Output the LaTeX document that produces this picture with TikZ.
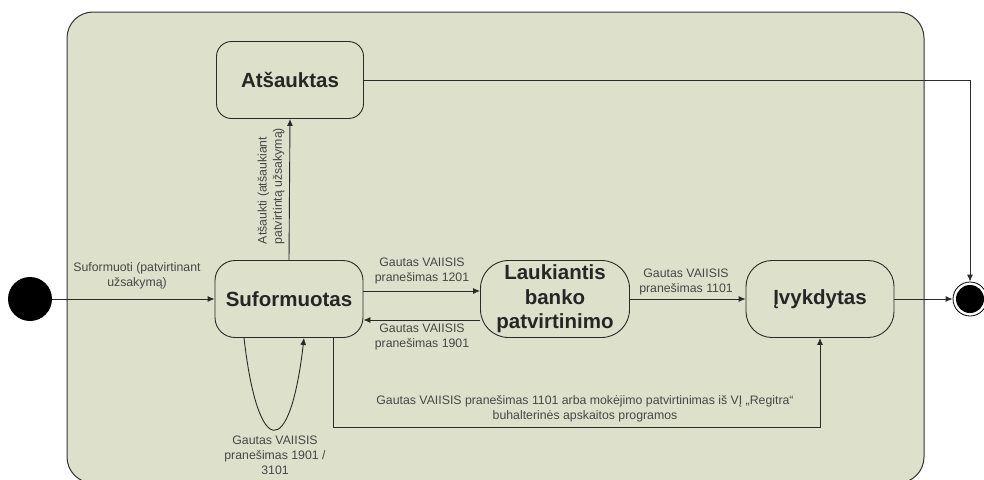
\documentclass[tikz,border=0pt]{standalone}
\usepackage{fontspec}
\setmainfont{Liberation Sans}
\usetikzlibrary{arrows.meta,calc}
\definecolor{bgfill}{HTML}{DDE0CA}
\definecolor{linec}{HTML}{2A2A2A}
\begin{document}
\begin{tikzpicture}[x=1pt,y=-1pt,
  state/.style={draw=linec, line width=0.9pt, fill=bgfill, rectangle, inner sep=0pt,
     minimum width=148pt, minimum height=77pt, align=center,
     font=\fontsize{20.5}{24.5}\selectfont\bfseries, text=black!85},
  lbl/.style={align=center, font=\fontsize{12.3}{15.2}\selectfont, text=black!72, inner sep=0pt},
  arr/.style={draw=linec, line width=0.9pt, -{Latex[length=7pt,width=6pt]}},
  conn/.style={draw=linec, line width=0.9pt}]
\useasboundingbox (0,0) rectangle (984,479);
\begin{scope}
\clip (0,0) rectangle (984,479);
\draw[fill=bgfill, draw=black!80, line width=1pt, rounded corners=26pt] (67,12) rectangle (924,483);
\end{scope}
% nodes
\node[state, rounded corners=15pt, minimum width=147pt] (ats) at (290,80) {Atšauktas};
\node[state, rounded corners=20pt] (suf) at (289,299) {Suformuotas};
\node[state, rounded corners=28pt, minimum width=149pt] (lau) at (555,299) {Laukiantis\\banko\\patvirtinimo};
\node[state, rounded corners=26pt] (ivy) at (820,299) {Įvykdytas};
\node[circle, fill=black, minimum size=44pt, inner sep=0pt] (start) at (30,299) {};
\node[circle, draw=black, line width=0.8pt, fill=white, minimum size=34pt, inner sep=0pt] (end) at (970,299) {};
\node[circle, fill=black, minimum size=28pt, inner sep=0pt] (endin) at (end.center) {};
% connectors
\draw[arr] (start) -- (suf.west);
\draw[arr] (suf.north) -- (ats.south);
\draw[arr] ([yshift=8pt]suf.east) -- ([yshift=8pt]lau.west);
\draw[arr] ([yshift=-21pt]lau.west) -- ([yshift=-21pt]suf.east);
\draw[arr] (lau.east) -- (ivy.west);
\draw[arr] (ivy.east) -- (end.west);
\draw[arr] (ats.east) -| (end.north);
\draw[arr] ([xshift=44pt]suf.south) -- ++(0,89) -| (ivy.south);
\draw[arr] ([xshift=-45pt]suf.south) .. controls ++(14,122) and ++(-14,122) .. ([xshift=15pt]suf.south);
% labels
\node[lbl] (l1) at (137,276) {Suformuoti (patvirtinant\\užsakymą)};
\node[lbl, rotate=90, align=left] (l2) at (271,186) {Atšaukti (atšaukiant\\patvirtintą užsakymą)};
\node[lbl] (l3) at (422,271) {Gautas VAIISIS\\pranešimas 1201};
\node[lbl] (l4) at (422,337) {Gautas VAIISIS\\pranešimas 1901};
\node[lbl] (l5) at (686,282) {Gautas VAIISIS\\pranešimas 1101};
\node[lbl] (l6) at (585,409) {Gautas VAIISIS pranešimas 1101 arba mokėjimo patvirtinimas iš VĮ „Regitra“\\buhalterinės apskaitos programos};
\node[lbl] (l7) at (275,455) {Gautas VAIISIS\\pranešimas 1901 /\\3101};
\end{tikzpicture}
\end{document}
